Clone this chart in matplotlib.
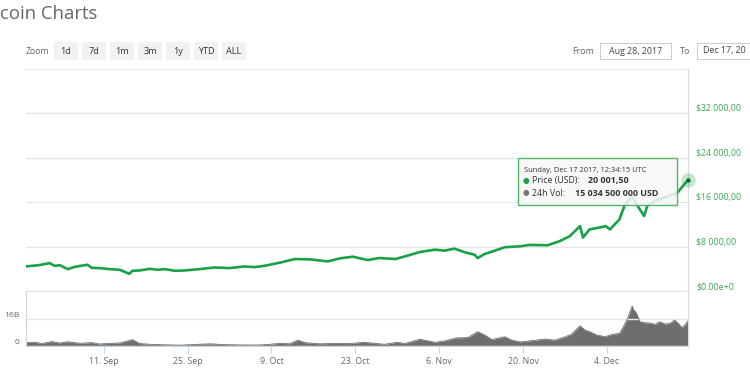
import matplotlib.pyplot as plt
import matplotlib.dates as mdates
import pandas as pd
from matplotlib.patches import Rectangle
from matplotlib.ticker import FuncFormatter

# price (USD)
price_dates = [
    "2017-08-29 00:00", "2017-08-31 07:00", "2017-09-02 00:00", "2017-09-02 19:00",
    "2017-09-03 17:00", "2017-09-05 00:00", "2017-09-06 05:00", "2017-09-08 07:00",
    "2017-09-09 00:00", "2017-09-10 07:00", "2017-09-12 00:00", "2017-09-13 17:00",
    "2017-09-14 12:00", "2017-09-15 07:00", "2017-09-15 19:00", "2017-09-17 00:00",
    "2017-09-18 17:00", "2017-09-20 00:00", "2017-09-21 05:00", "2017-09-22 22:00",
    "2017-09-24 12:00", "2017-09-27 00:00", "2017-09-29 12:00", "2017-10-02 00:00",
    "2017-10-04 12:00", "2017-10-06 05:00", "2017-10-07 22:00",
    "2017-10-10 14:00", "2017-10-12 22:00", "2017-10-15 10:00", "2017-10-18 10:00",
    "2017-10-20 10:00", "2017-10-22 14:00", "2017-10-25 02:00", "2017-10-27 00:00",
    "2017-10-29 17:00", "2017-10-31 07:00", "2017-11-02 19:00", "2017-11-05 07:00",
    "2017-11-06 22:00", "2017-11-08 12:00", "2017-11-10 07:00", "2017-11-11 22:00",
    "2017-11-12 10:00", "2017-11-13 14:00", "2017-11-15 07:00", "2017-11-16 22:00",
    "2017-11-19 12:00", "2017-11-21 02:00", "2017-11-24 02:00", "2017-11-26 02:00",
    "2017-11-27 19:00", "2017-11-29 12:00", "2017-11-30 00:00", "2017-12-01 02:00",
    "2017-12-02 19:00", "2017-12-03 19:00", "2017-12-04 12:00", "2017-12-05 07:00",
    "2017-12-06 02:00", "2017-12-06 22:00", "2017-12-07 19:00", "2017-12-08 07:00",
    "2017-12-09 00:00", "2017-12-10 05:00", "2017-12-10 17:00", "2017-12-12 00:00",
    "2017-12-13 17:00", "2017-12-15 07:00", "2017-12-15 19:00", "2017-12-16 17:00",
    "2017-12-17 12:34",
]
price_usd = [
    4420, 4670, 5030, 4540,
    4640, 3940, 4360, 4730,
    4180, 4120, 3940, 3820,
    3450, 3090, 3640, 3700,
    4000, 3820, 3940, 3640,
    3700, 3940, 4240, 4130,
    4420, 4310, 4550,
    5150, 5760, 5700, 5330,
    5880, 6180, 5580, 5940,
    5760, 6240, 7030, 7450,
    7270, 7640, 6970, 6540,
    5940, 6670, 7270, 7880,
    8060, 8300, 8240, 8970,
    9880, 11690, 9640, 11090,
    11450, 11690, 11100, 12000,
    12900, 15330, 16540, 17000,
    15500, 13500, 15330, 16230,
    16900, 17450, 17760, 18960,
    20001.5,
]

# 24h volume (billion USD)
vol_dates = [
    "2017-08-29 00:00", "2017-08-30 12:00", "2017-08-31 17:00", "2017-09-02 07:00",
    "2017-09-03 17:00", "2017-09-05 00:00", "2017-09-07 00:00", "2017-09-09 00:00",
    "2017-09-10 07:00", "2017-09-13 17:00", "2017-09-15 00:00", "2017-09-15 19:00",
    "2017-09-17 00:00", "2017-09-18 17:00", "2017-09-21 05:00", "2017-09-23 17:00",
    "2017-09-26 05:00", "2017-09-28 17:00", "2017-10-01 05:00", "2017-10-04 12:00",
    "2017-10-07 00:00", "2017-10-08 17:00", "2017-10-10 10:00", "2017-10-12 00:00",
    "2017-10-13 10:00", "2017-10-14 14:00", "2017-10-17 00:00", "2017-10-19 14:00",
    "2017-10-22 00:00", "2017-10-24 10:00", "2017-10-26 07:00", "2017-10-27 22:00",
    "2017-10-29 22:00", "2017-10-31 07:00", "2017-11-02 19:00", "2017-11-05 07:00",
    "2017-11-06 22:00", "2017-11-08 22:00", "2017-11-10 19:00", "2017-11-12 10:00",
    "2017-11-13 14:00", "2017-11-14 19:00", "2017-11-16 22:00", "2017-11-18 02:00",
    "2017-11-19 12:00", "2017-11-21 02:00", "2017-11-23 14:00", "2017-11-25 07:00",
    "2017-11-26 22:00", "2017-11-28 02:00", "2017-11-29 12:00", "2017-11-30 07:00",
    "2017-12-01 02:00", "2017-12-02 07:00", "2017-12-03 17:00", "2017-12-04 19:00",
    "2017-12-06 02:00", "2017-12-06 22:00", "2017-12-07 12:00", "2017-12-08 05:00",
    "2017-12-08 12:00", "2017-12-08 19:00", "2017-12-09 12:00", "2017-12-10 07:00",
    "2017-12-11 05:00", "2017-12-12 00:00", "2017-12-12 19:00", "2017-12-13 17:00",
    "2017-12-14 12:00", "2017-12-15 07:00", "2017-12-16 00:00", "2017-12-16 12:00",
    "2017-12-17 00:00", "2017-12-17 12:34",
]
vol_usd_bn = [
    2.0, 2.2, 1.5, 2.6,
    1.8, 2.5, 1.6, 2.0,
    1.2, 1.8, 3.0, 3.8,
    1.5, 1.0, 0.7, 0.5,
    0.9, 1.3, 0.8, 0.6,
    0.6, 1.0, 1.6, 1.3,
    3.5, 2.0, 1.3, 1.5,
    1.4, 2.2, 1.6, 1.0,
    2.2, 1.5, 4.0, 2.2,
    3.0, 4.8, 5.0, 8.5,
    6.5, 3.8, 5.5, 3.5,
    2.4, 3.0, 4.1, 3.5,
    5.3, 7.0, 12.0, 9.5,
    8.5, 6.5, 5.5, 6.8,
    7.5, 12.5, 17.0, 23.7,
    21.0, 20.3, 14.4, 13.8,
    13.6, 12.8, 14.4, 13.0,
    13.4, 15.4, 13.0, 10.8,
    12.5, 15.0,
]

x_ticks = ["2017-09-11", "2017-09-25", "2017-10-09", "2017-10-23",
           "2017-11-06", "2017-11-20", "2017-12-04"]
price_ticks = [0, 8000, 16000, 24000, 32000]
vol_ticks = [0, 16]
zoom_buttons = ["1d", "7d", "1m", "3m", "1y", "YTD", "ALL"]

plt.rcParams['font.family'] = ['Open Sans', 'DejaVu Sans']

GREEN = "#18a146"
GRID = "#e6e6e6"
AXIS = "#ccd6eb"
W, H = 750, 375

def px(x, y):
    return x / W, 1 - y / H

pdates = pd.to_datetime(price_dates)
vdates = pd.to_datetime(vol_dates)

fig = plt.figure(figsize=(7.5, 3.75), dpi=100)
ax = fig.add_axes([26 / W, 1 - 291 / H, 662 / W, 222 / H])
axv = fig.add_axes([26 / W, 1 - 346 / H, 662 / W, 55 / H], sharex=ax)

# price pane
ax.plot(pdates, price_usd, color=GREEN, lw=1.9, solid_joinstyle='round')
ax.scatter([pdates[-1]], [price_usd[-1]], s=110, color=GREEN, alpha=0.25, lw=0, clip_on=False, zorder=4)
ax.scatter([pdates[-1]], [price_usd[-1]], s=10, color="#0b6b2c", lw=0, clip_on=False, zorder=5)
ax.set_ylim(0, 40000)
ax.set_yticks(price_ticks)
ax.yaxis.tick_right()
ax.yaxis.set_major_formatter(FuncFormatter(
    lambda v, p: "$0.00e+0" if v == 0 else "$" + f"{v:,.2f}".replace(",", " ").replace(".", ",")))
ax.tick_params(axis='y', length=0, pad=6, labelsize=6.3, labelcolor="#3aa757")
for lbl in ax.get_yticklabels():
    lbl.set_verticalalignment('bottom')
ax.grid(axis='y', color=GRID, lw=1)
ax.tick_params(axis='x', which='both', bottom=False, labelbottom=False)
for s in ['left', 'bottom']:
    ax.spines[s].set_visible(False)
ax.spines['top'].set_color(GRID)
ax.spines['right'].set_color("#d8d8d8")

# volume pane
axv.fill_between(vdates, vol_usd_bn, color="#6e6e6e", lw=0)
axv.plot(vdates, vol_usd_bn, color="#6e6e6e", lw=0.6)
axv.set_ylim(0, 32.6)
axv.set_yticks(vol_ticks)
axv.yaxis.set_major_formatter(FuncFormatter(lambda v, p: "0" if v == 0 else f"{v:.0f}B"))
axv.tick_params(axis='y', length=0, pad=5, labelsize=6.1, labelcolor="#666666")
for lbl in axv.get_yticklabels():
    lbl.set_verticalalignment('bottom')
axv.grid(axis='y', color=GRID, lw=1)
axv.set_xticks(pd.to_datetime(x_ticks))
axv.xaxis.set_major_formatter(FuncFormatter(
    lambda v, p: f"{mdates.num2date(v).day}. {mdates.num2date(v):%b}"))
axv.tick_params(axis='x', length=5, color=AXIS, labelsize=6.3, labelcolor="#666666", pad=3)
axv.set_xlim(pd.Timestamp("2017-08-29 01:00"), pd.Timestamp("2017-12-17 12:34"))
axv.spines['top'].set_color(GRID)
axv.spines['bottom'].set_color(AXIS)
axv.spines['left'].set_color(AXIS)
axv.spines['right'].set_color("#d8d8d8")

# header
fig.text(*px(0, 14), "coin Charts", fontsize=13.3, color="#666666", va='center')
fig.text(*px(26, 52), "Zoom", fontsize=6.2, color="#666666", va='center')
for i, b in enumerate(zoom_buttons):
    x0 = 54 + i * 28
    fig.patches.append(Rectangle(px(x0, 60), 24 / W, 18 / H, transform=fig.transFigure,
                                 facecolor="#f2f2f2", edgecolor='none'))
    fig.text(*px(x0 + 12, 51), b, fontsize=6.6, color="#333333", ha='center', va='center')
fig.text(*px(572, 52), "From", fontsize=6.4, color="#666666", va='center')
fig.patches.append(Rectangle(px(600, 59), 71 / W, 16 / H, transform=fig.transFigure,
                             facecolor='white', edgecolor="#cccccc", lw=0.7))
fig.text(*px(636, 51), "Aug 28, 2017", fontsize=6.4, color="#444444", ha='center', va='center')
fig.text(*px(680, 52), "To", fontsize=6.4, color="#666666", va='center')
fig.patches.append(Rectangle(px(697, 59), 60 / W, 16 / H, transform=fig.transFigure,
                             facecolor='white', edgecolor="#cccccc", lw=0.7))
fig.text(*px(703, 51), "Dec 17, 20", fontsize=6.4, color="#444444", va='center')

# tooltip
fig.patches.append(Rectangle(px(518, 205), 159 / W, 47 / H, transform=fig.transFigure,
                             facecolor="#f7f7f7", alpha=0.85, edgecolor='none', zorder=10))
fig.patches.append(Rectangle(px(518, 205), 159 / W, 47 / H, transform=fig.transFigure,
                             facecolor='none', edgecolor="#4cb865", lw=1, zorder=11))
fig.text(*px(524, 170), "Sunday, Dec 17 2017, 12:34:15 UTC", fontsize=5.4, color="#333333",
         va='center', zorder=12)
fig.text(*px(523, 181), "\u25cf", fontsize=5.5, color=GREEN, va='center', zorder=12)
fig.text(*px(532, 181), "Price (USD):", fontsize=6.4, color="#333333", va='center', zorder=12)
fig.text(*px(588, 181), "20 001,50", fontsize=6.4, color="#333333", weight='bold', va='center', zorder=12)
fig.text(*px(523, 193), "\u25cf", fontsize=5.5, color="#777777", va='center', zorder=12)
fig.text(*px(532, 193), "24h Vol:", fontsize=6.4, color="#333333", va='center', zorder=12)
fig.text(*px(575, 193), "15 034 500 000 USD", fontsize=6.4, color="#333333", weight='bold',
         va='center', zorder=12)

fig.savefig("out.png", dpi=100)
